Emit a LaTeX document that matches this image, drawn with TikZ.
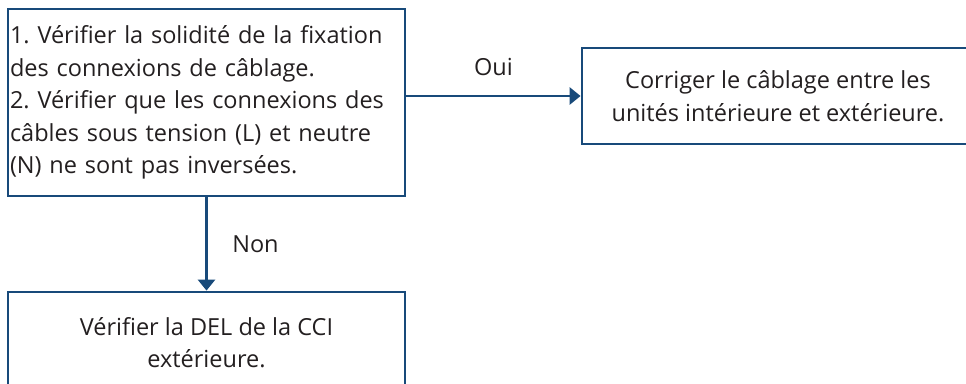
\documentclass[tikz,border=0pt]{standalone}
\usepackage{fontspec}
\setmainfont{Open Sans}
\frenchspacing
\usetikzlibrary{arrows.meta}
\definecolor{boxblue}{RGB}{24,74,122}
\definecolor{txt}{RGB}{35,31,32}
\begin{document}
\begin{tikzpicture}[x=1pt,y=-1pt,
  box/.style={draw=boxblue, line width=2.8pt, inner sep=0pt, text=txt,
    font=\fontsize{23.5}{32.5}\selectfont},
  conn/.style={draw=boxblue, line width=2.8pt,
    -{Triangle[width=17pt,length=11pt]}},
  lbl/.style={text=txt, font=\fontsize{23.5}{28}\selectfont, inner sep=0pt}]
\clip (0,0) rectangle (966,383);
\node[box, minimum width=397pt, minimum height=187pt,
  text width=393pt, align=left] (check) at (206.5,102.5)
  {1. Vérifier la solidité de la fixation\\
   des connexions de câblage.\\
   2. Vérifier que les connexions des\\
   câbles sous tension (L) et neutre\\
   (N) ne sont pas inversées.};
\node[box, minimum width=392pt, minimum height=96pt, align=center] (fix) at (778,96)
  {Corriger le câblage entre les\\ unités intérieure et extérieure.};
\node[box, minimum width=397pt, minimum height=101pt, align=center] (led) at (206.5,342.5)
  {Vérifier la DEL de la CCI\\ extérieure.};
\draw[conn] (fix.west -| check.east) -- node[lbl, midway, yshift=29pt] (oui) {Oui} (fix.west);
\draw[conn] (check.south) -- node[lbl, midway, xshift=49pt] (non) {Non} (led.north);
\end{tikzpicture}
\end{document}
